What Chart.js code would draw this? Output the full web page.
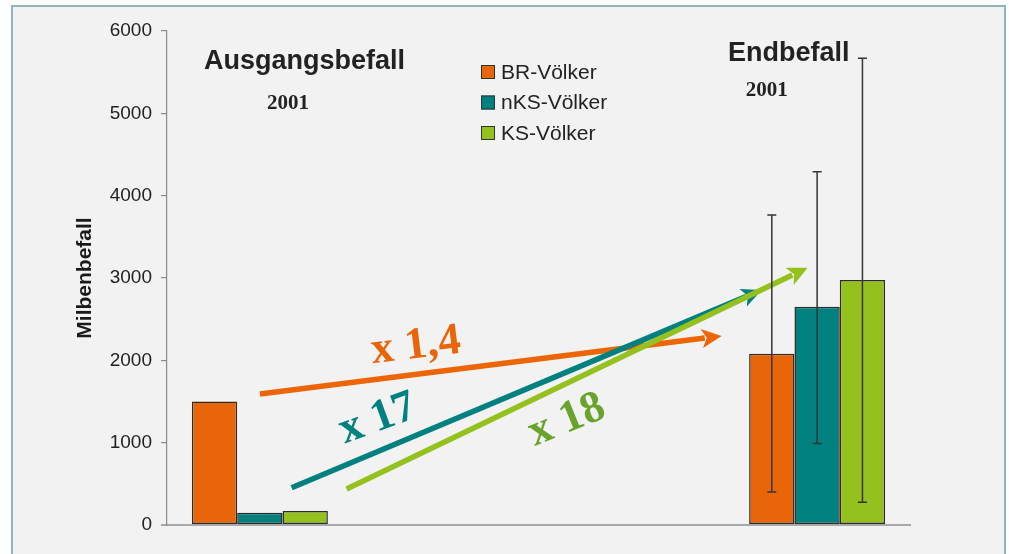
<!DOCTYPE html>
<html>
<head>
<meta charset="utf-8">
<script src="https://cdn.jsdelivr.net/npm/chart.js@4/dist/chart.umd.min.js"></script>
<style>
  html, body { margin: 0; padding: 0; background: #ffffff; overflow: hidden; }
  #wrap { position: relative; width: 1009px; height: 554px; }
  #panel { position: absolute; left: 11px; top: 5px; width: 991px; height: 600px;
           background: #f2f2f2; border: 2px solid #8fb4b9; box-sizing: content-box; }
  #c { position: absolute; left: 0; top: 0; }
</style>
</head>
<body>
<div id="wrap">
  <div id="panel"></div>
  <canvas id="c" width="1009" height="554"></canvas>
</div>
<script>
// ---- data ----
const categories = ['Ausgangsbefall 2001', 'gap-a', 'gap-b', 'Endbefall 2001'];
const seriesNames = ['BR-Völker', 'nKS-Völker', 'KS-Völker'];
const brValues  = [1500, null, null, 2080];
const nksValues = [150,  null, null, 2650];
const ksValues  = [170,  null, null, 2975];
const brErrLow   = [null, null, null, 400];
const brErrHigh  = [null, null, null, 3765];
const nksErrLow  = [null, null, null, 990];
const nksErrHigh = [null, null, null, 4290];
const ksErrLow   = [null, null, null, 275];
const ksErrHigh  = [null, null, null, 5670];
const yTicks = [0, 1000, 2000, 3000, 4000, 5000, 6000];
// arrows in data units: [category index, value] start -> end
const arrowStarts = [[0.0, 1590], [0.171, 453], [0.467, 437]];
const arrowEnds   = [[2.486, 2296], [2.701, 2854], [2.949, 3125]];
const factorLabels = ['x 1,4', 'x 17', 'x 18'];
const factorAnchors = [[0.840, 2170], [0.635, 1285], [1.653, 1270]];
const titleTexts = ['Ausgangsbefall', '2001', 'Endbefall', '2001'];
const titleAnchors = [[-0.301, 5539], [0.038, 5053], [2.520, 5636], [2.616, 5211]];

// ---- styles ----
const colors = ['#e9650a', '#008180', '#95c11f'];
const arrowColors = ['#ec6608', '#00807f', '#95c11f'];
const factorColors = ['#e9650a', '#00807f', '#6aa32b'];
const factorAngles = [-7, -20, -22];
const titleFonts = ['bold 27px "Liberation Sans"', 'bold 21px "Liberation Serif"',
                    'bold 27px "Liberation Sans"', 'bold 21px "Liberation Serif"'];

const errLows = [brErrLow, nksErrLow, ksErrLow];
const errHighs = [brErrHigh, nksErrHigh, ksErrHigh];

const overlayPlugin = {
  id: 'overlay',
  afterDatasetsDraw(chart) {
    const ctx = chart.ctx;
    const xs = chart.scales.x, ys = chart.scales.y;
    // arrows
    arrowStarts.forEach((s, i) => {
      const e = arrowEnds[i];
      const x0 = xs.getPixelForValue(s[0]), y0 = ys.getPixelForValue(s[1]);
      const x1 = xs.getPixelForValue(e[0]), y1 = ys.getPixelForValue(e[1]);
      const ang = Math.atan2(y1 - y0, x1 - x0);
      const headLen = 20, headHalf = 9.5;
      const bx = x1 - headLen * Math.cos(ang), by = y1 - headLen * Math.sin(ang);
      ctx.save();
      ctx.strokeStyle = arrowColors[i];
      ctx.fillStyle = arrowColors[i];
      ctx.lineWidth = 5.5;
      ctx.lineCap = 'butt';
      ctx.beginPath();
      ctx.moveTo(x0, y0);
      ctx.lineTo(bx + 3 * Math.cos(ang), by + 3 * Math.sin(ang));
      ctx.stroke();
      ctx.beginPath();
      ctx.moveTo(x1, y1);
      ctx.lineTo(bx + headHalf * Math.sin(ang), by - headHalf * Math.cos(ang));
      ctx.lineTo(bx + 5 * Math.cos(ang), by + 5 * Math.sin(ang));
      ctx.lineTo(bx - headHalf * Math.sin(ang), by + headHalf * Math.cos(ang));
      ctx.closePath();
      ctx.fill();
      ctx.restore();
    });
    // factor labels
    factorLabels.forEach((t, i) => {
      const a = factorAnchors[i];
      const x = xs.getPixelForValue(a[0]), y = ys.getPixelForValue(a[1]);
      ctx.save();
      ctx.translate(x, y);
      ctx.rotate(factorAngles[i] * Math.PI / 180);
      ctx.font = 'bold 45px "Liberation Serif"';
      ctx.fillStyle = factorColors[i];
      ctx.textAlign = 'center';
      ctx.textBaseline = 'middle';
      ctx.fillText(t, 0, 0);
      ctx.restore();
    });
    // error bars
    chart.data.datasets.forEach((ds, di) => {
      const meta = chart.getDatasetMeta(di);
      meta.data.forEach((bar, j) => {
        const lo = errLows[di][j], hi = errHighs[di][j];
        if (lo == null || hi == null) return;
        const x = bar.x;
        const yl = ys.getPixelForValue(lo), yh = ys.getPixelForValue(hi);
        ctx.save();
        ctx.strokeStyle = '#353535';
        ctx.lineWidth = 1.5;
        ctx.beginPath();
        ctx.moveTo(x, yl); ctx.lineTo(x, yh);
        ctx.moveTo(x - 4.5, yl); ctx.lineTo(x + 4.5, yl);
        ctx.moveTo(x - 4.5, yh); ctx.lineTo(x + 4.5, yh);
        ctx.stroke();
        ctx.restore();
      });
    });
    // titles
    titleTexts.forEach((t, i) => {
      const a = titleAnchors[i];
      ctx.save();
      ctx.font = titleFonts[i];
      ctx.fillStyle = '#222222';
      ctx.textAlign = 'left';
      ctx.textBaseline = 'alphabetic';
      ctx.fillText(t, xs.getPixelForValue(a[0]), ys.getPixelForValue(a[1]));
      ctx.restore();
    });
    // legend
    chart.data.datasets.forEach((ds, di) => {
      const cy = 72 + di * 30.5;
      ctx.save();
      ctx.fillStyle = ds.backgroundColor;
      ctx.fillRect(481, cy - 7, 14, 14);
      ctx.strokeStyle = '#333333';
      ctx.lineWidth = 1;
      ctx.strokeRect(481.5, cy - 6.5, 13, 13);
      ctx.font = '21px "Liberation Sans"';
      ctx.fillStyle = '#222222';
      ctx.textAlign = 'left';
      ctx.textBaseline = 'middle';
      ctx.fillText(ds.label, 501, cy + 1);
      ctx.restore();
    });
  }
};

new Chart(document.getElementById('c'), {
  type: 'bar',
  data: {
    labels: categories,
    datasets: [
      { label: seriesNames[0], data: brValues,  backgroundColor: colors[0] },
      { label: seriesNames[1], data: nksValues, backgroundColor: colors[1] },
      { label: seriesNames[2], data: ksValues,  backgroundColor: colors[2] }
    ]
  },
  options: {
    responsive: false,
    animation: false,
    devicePixelRatio: 1,
    layout: { padding: { left: 73, right: 99, top: 31, bottom: 0 } },
    datasets: {
      bar: {
        categoryPercentage: 0.732,
        barPercentage: 1.0,
        borderColor: '#2b2b2b',
        borderWidth: 1.5,
        borderSkipped: false
      }
    },
    plugins: {
      legend: { display: false },
      tooltip: { enabled: false },
      title: { display: false }
    },
    scales: {
      x: {
        type: 'category',
        grid: { display: false },
        ticks: { display: false },
        border: { display: true, color: '#a9a9a9', width: 2 },
        afterFit(scale) { scale.height = 29; }
      },
      y: {
        min: 0,
        max: 6000,
        afterBuildTicks(scale) { scale.ticks = yTicks.map(v => ({ value: v })); },
        ticks: {
          color: '#222222',
          font: { family: 'Liberation Sans', size: 19 },
          padding: 9,
          callback: (v) => String(v)
        },
        grid: {
          drawOnChartArea: false,
          drawTicks: true,
          tickLength: 6,
          color: (c) => c.tick && c.tick.value === 0 ? '#a9a9a9' : '#8a8a8a',
          lineWidth: (c) => c.tick && c.tick.value === 0 ? 2 : 1.2
        },
        border: { display: true, color: '#8a8a8a', width: 1.2 },
        title: {
          display: true,
          text: 'Milbenbefall',
          color: '#1a1a1a',
          font: { family: 'Liberation Sans', size: 21, weight: 'bold' },
          padding: { top: 0, bottom: 0 }
        },
        afterFit(scale) { scale.width = 94; }
      }
    }
  },
  plugins: [overlayPlugin]
});
</script>
</body>
</html>
